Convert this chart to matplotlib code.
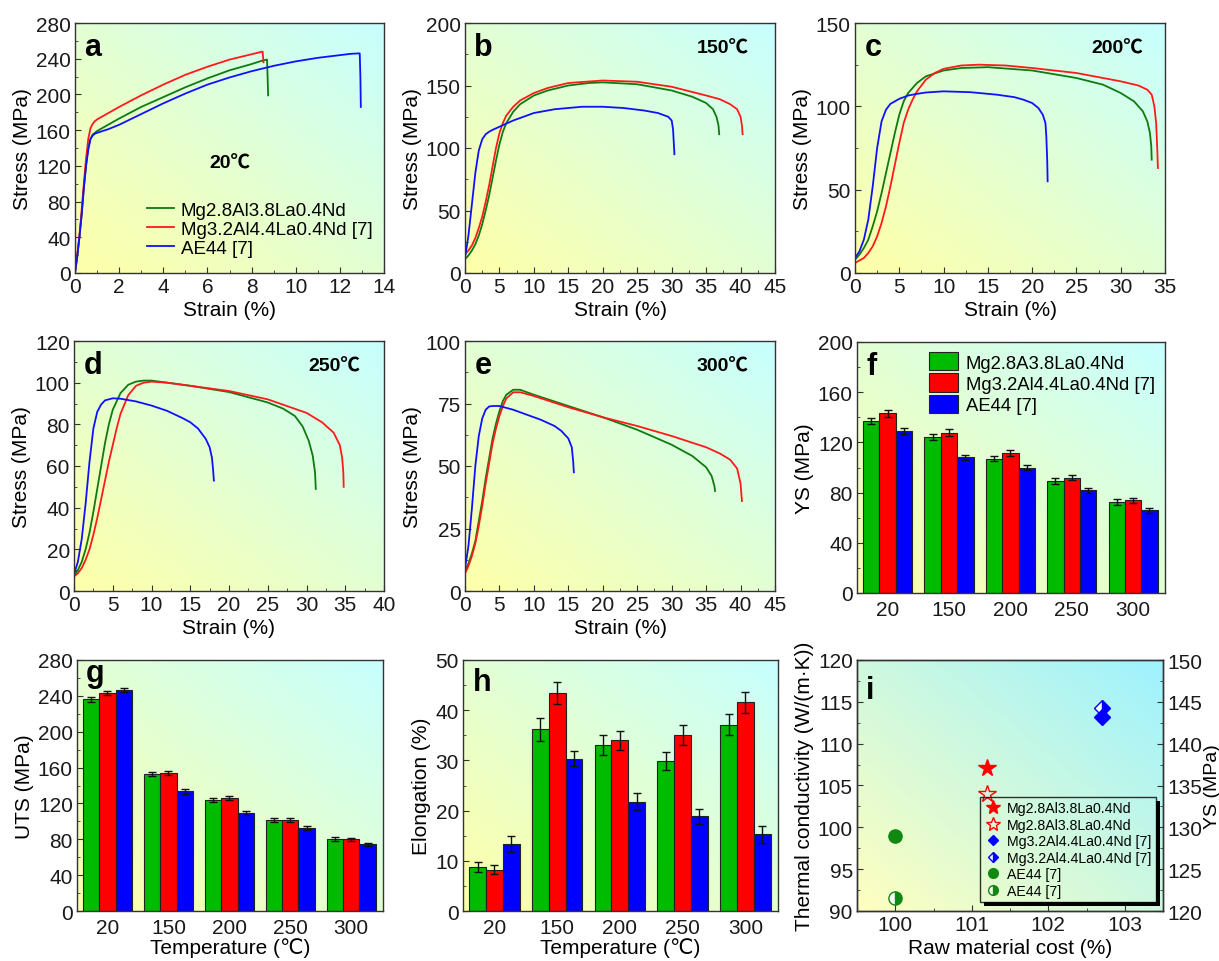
import numpy as np
import matplotlib
matplotlib.use('Agg')
import matplotlib.pyplot as plt
from matplotlib.ticker import MultipleLocator, AutoMinorLocator
from matplotlib.lines import Line2D
from matplotlib.patches import Rectangle

plt.rcParams['font.family'] = ['Liberation Sans', 'Noto Sans CJK SC', 'DejaVu Sans']
plt.rcParams['font.size'] = 15

# ---------------- data ----------------
alloys = ['Mg2.8Al3.8La0.4Nd', 'Mg3.2Al4.4La0.4Nd [7]', 'AE44 [7]']
alloys_f = ['Mg2.8A3.8La0.4Nd', 'Mg3.2Al4.4La0.4Nd [7]', 'AE44 [7]']
temps = ['20', '150', '200', '250', '300']

# panel a (20 C)
a_g_x = [0, 0.1, 0.2, 0.3, 0.4, 0.5, 0.6, 0.7, 0.8, 0.9, 1.0, 1.5, 2, 3, 4, 5, 6, 7, 8, 8.5, 8.7, 8.72, 8.75]
a_g_y = [0, 18, 40, 65, 95, 120, 140, 150, 155, 157, 159, 166, 173, 186, 197, 208, 218, 227, 234, 238, 239, 225, 199]
a_r_x = [0, 0.1, 0.2, 0.3, 0.4, 0.5, 0.6, 0.7, 0.8, 0.9, 1.0, 1.5, 2, 3, 4, 5, 6, 7, 8, 8.5, 8.52, 8.54]
a_r_y = [0, 20, 42, 70, 100, 128, 150, 162, 167, 170, 172, 179, 186, 199, 211, 222, 231, 239, 245, 248, 242, 236]
a_b_x = [0, 0.1, 0.2, 0.3, 0.4, 0.5, 0.6, 0.7, 0.8, 0.9, 1.0, 1.5, 2, 3, 4, 5, 6, 7, 8, 9, 10, 11, 12, 12.5, 12.9, 12.93, 12.95]
a_b_y = [0, 18, 40, 65, 95, 120, 138, 150, 154, 156, 157, 161, 166, 178, 190, 201, 211, 219, 226, 232, 237, 241, 244, 245.5, 246, 220, 186]

# panel b (150 C)
b_g_x = [0, 0.5, 1, 1.5, 2, 2.5, 3, 3.5, 4, 4.5, 5, 5.5, 6, 7, 8, 10, 12, 15, 18, 20, 25, 30, 33, 35, 36, 36.5, 36.8, 36.9]
b_g_y = [11, 14, 18, 23, 30, 39, 50, 62, 76, 90, 103, 113, 120, 129, 135, 142, 146, 150, 152, 152.5, 151, 146, 141, 136, 131, 125, 118, 111]
b_r_x = [0, 0.5, 1, 1.5, 2, 2.5, 3, 3.5, 4, 4.5, 5, 5.5, 6, 7, 8, 10, 12, 15, 20, 25, 30, 35, 37, 38.5, 39.5, 40, 40.2, 40.3]
b_r_y = [15, 18, 22, 28, 36, 45, 57, 70, 85, 100, 112, 120, 126, 133, 138, 144, 148, 152, 154, 153, 149, 142, 139, 135, 131, 125, 118, 111]
b_b_x = [0, 0.5, 1, 1.5, 2, 2.5, 3, 3.5, 4, 5, 6, 7, 8, 10, 13, 17, 20, 23, 26, 28, 29.5, 30, 30.2, 30.3, 30.4]
b_b_y = [12, 30, 55, 80, 98, 107, 111, 113, 114.5, 117, 119.5, 122, 124, 128, 131, 133, 133, 132, 130, 128, 125, 122, 115, 105, 95]

# panel c (200 C)
c_g_x = [0, 0.5, 1, 1.5, 2, 2.5, 3, 3.5, 4, 4.5, 5, 5.5, 6, 7, 8, 10, 12, 15, 20, 25, 28, 30, 31.5, 32.5, 33, 33.3, 33.45, 33.5]
c_g_y = [8, 11, 15, 20, 28, 37, 48, 60, 72, 84, 95, 103, 108, 114, 118, 121.5, 123, 123.5, 121.5, 117, 113, 108, 103, 97, 91, 84, 76, 68]
c_r_x = [0, 0.5, 1, 1.5, 2, 2.5, 3, 3.5, 4, 4.5, 5, 5.5, 6, 6.5, 7, 8, 9, 10, 12, 14, 17, 20, 25, 30, 32, 33, 33.5, 33.8, 34, 34.1, 34.2]
c_r_y = [6, 7.5, 9, 12, 16, 22, 30, 40, 52, 65, 78, 90, 98, 104, 109, 116, 120, 122.5, 124.5, 125, 124.5, 123, 120, 115, 112.5, 110, 107, 100, 90, 78, 63]
c_b_x = [0, 0.5, 1, 1.5, 2, 2.5, 3, 3.5, 4, 5, 6, 7, 8, 10, 13, 16, 18, 19, 20, 20.7, 21.2, 21.5, 21.6, 21.7, 21.75]
c_b_y = [9, 13, 20, 32, 52, 75, 91, 98, 101.5, 104.5, 106.5, 107.5, 108.3, 109, 108.5, 107, 105.5, 104, 102, 99, 95, 90, 82, 68, 55]

# panel d (250 C)
d_g_x = [0, 0.5, 1, 1.5, 2, 2.5, 3, 3.5, 4, 4.5, 5, 6, 7, 8, 9, 10, 12, 15, 20, 25, 27, 28.5, 29.5, 30.3, 30.8, 31.1, 31.2]
d_g_y = [7, 10, 14, 20, 28, 38, 49, 60, 71, 80, 87, 95, 99, 100.5, 101, 101, 100, 98.5, 95.5, 90.5, 87.5, 84, 79, 72, 65, 57, 49]
d_r_x = [0, 0.5, 1, 1.5, 2, 2.5, 3, 3.5, 4, 4.5, 5, 5.5, 6, 7, 8, 9, 10, 12, 15, 20, 25, 30, 32, 33.5, 34.3, 34.6, 34.75, 34.8]
d_r_y = [7, 8.5, 11, 15, 20, 27, 35, 44, 53, 62, 70, 78, 85, 94, 98.5, 100, 100.5, 100, 98.5, 96, 92, 85.5, 81, 76, 70, 64, 57, 50]
d_b_x = [0, 0.5, 1, 1.5, 2, 2.5, 3, 3.5, 4, 5, 6, 8, 10, 12, 14, 15, 16, 17, 17.5, 17.8, 17.95, 18.05]
d_b_y = [8, 14, 25, 42, 62, 78, 86, 89.5, 91.5, 92.5, 92.3, 91, 89, 86.5, 83, 81, 78, 73, 69, 64, 58, 53]

# panel e (300 C)
e_g_x = [0, 0.5, 1, 1.5, 2, 2.5, 3, 3.5, 4, 4.5, 5, 5.5, 6, 7, 8, 10, 15, 20, 25, 30, 33, 35, 35.8, 36.2, 36.3]
e_g_y = [8, 11, 15, 20, 28, 36, 45, 53, 61, 67, 72, 76, 78.5, 80.5, 80.5, 78.5, 74, 69.5, 64.5, 58.5, 54, 49.5, 46, 42, 40]
e_r_x = [0, 0.5, 1, 1.5, 2, 2.5, 3, 3.5, 4, 4.5, 5, 5.5, 6, 7, 8, 10, 15, 20, 25, 30, 35, 37, 38.5, 39.5, 40, 40.2]
e_r_y = [7, 10, 14, 19, 26, 34, 43, 51, 59, 65, 70, 74, 77, 79.5, 79.5, 78, 73.5, 69.5, 66, 62, 57.5, 55, 52.5, 49, 43, 36]
e_b_x = [0, 0.5, 1, 1.5, 2, 2.5, 3, 3.5, 4, 5, 7, 9, 11, 13, 14, 15, 15.5, 15.7, 15.8]
e_b_y = [9, 18, 33, 50, 62, 69, 72.5, 73.8, 74, 74, 72.5, 70.5, 68.5, 66, 64, 61, 57.5, 52, 47.5]

# panel f: yield strength (MPa)
ys_g = [137, 124.3, 107, 89.2, 72.8]
ys_r = [143.2, 127.8, 111.8, 91.9, 73.8]
ys_b = [128.8, 108.1, 99.9, 81.8, 65.9]
ys_err_g = [2.6, 2.6, 2.2, 2.2, 2.4]
ys_err_r = [2.8, 2.6, 2.4, 2.2, 1.8]
ys_err_b = [2.4, 2.2, 2.0, 2.2, 2.0]

# panel g: UTS (MPa)
uts_g = [236, 153.2, 123.8, 101.5, 80.5]
uts_r = [243.2, 154.3, 125.7, 101.2, 80.0]
uts_b = [246.6, 133.5, 109, 92.6, 74.4]
uts_err_g = [2.6, 2.4, 2.6, 2.6, 2.4]
uts_err_r = [2.6, 2.4, 2.2, 2.0, 1.8]
uts_err_b = [2.4, 2.8, 2.0, 2.2, 1.8]

# panel h: elongation (%)
el_g = [8.8, 36.2, 33.0, 29.9, 37.1]
el_r = [8.2, 43.5, 34.0, 35.1, 41.6]
el_b = [13.3, 30.3, 21.8, 18.9, 15.3]
el_err_g = [1.0, 2.3, 2.0, 1.8, 2.1]
el_err_r = [0.9, 2.2, 1.9, 2.0, 2.1]
el_err_b = [1.6, 1.5, 1.7, 1.5, 1.7]

# panel i
cost = [101.2, 102.7, 100.0]          # Mg2.8..., Mg3.2..., AE44
ys_i = [137.1, 143.2, 129.0]          # right axis
tc_i = [104.0, 114.3, 91.5]           # left axis

# ---------------- style ----------------
W, H = 1219, 962
fig = plt.figure(figsize=(W / 100, H / 100), dpi=100)

CG, CR, CB = '#0f7a0f', '#ff1a1a', '#1010ff'
BG, BR, BB = '#00bb00', '#ff0000', '#0000ff'
YEL = np.array([1.0, 1.0, 0.66])
CYA = np.array([0.78, 1.0, 1.0])
TICK_FS = 15
LAB_FS = 15


def rect(l, t, r, b):
    return [l / W, 1 - b / H, (r - l) / W, (b - t) / H]


def gradient(ax, c0=YEL, c1=CYA):
    n = 200
    x = np.linspace(0, 1, n)
    X, Y = np.meshgrid(x, x)
    t = (X + Y) / 2
    img = c0[None, None, :] * (1 - t[..., None]) + c1[None, None, :] * t[..., None]
    ax.imshow(img, extent=[0, 1, 0, 1], transform=ax.transAxes, origin='lower',
              aspect='auto', zorder=-10, interpolation='bilinear')


def style(ax, xminor=True):
    for s in ax.spines.values():
        s.set_color('#333333')
        s.set_linewidth(1.0)
    ax.tick_params(which='both', direction='in', top=False, right=False,
                   labelsize=TICK_FS, colors='#333333', labelcolor='#1a1a1a')
    ax.tick_params(which='major', length=4, pad=3)
    ax.tick_params(which='minor', length=2.5)
    if xminor:
        ax.xaxis.set_minor_locator(AutoMinorLocator(2))
    ax.yaxis.set_minor_locator(AutoMinorLocator(2))


def letter(ax, s, y=0.872):
    ax.text(0.03, y, s, transform=ax.transAxes, fontsize=22, fontweight='bold',
            ha='left', va='baseline')


curve_panels = [
    ('a', rect(75, 24, 384, 274), (0, 14), 2, (0, 280), 40, '20℃', (0.5, 0.44),
     [(a_g_x, a_g_y), (a_r_x, a_r_y), (a_b_x, a_b_y)]),
    ('b', rect(465, 24, 775, 274), (0, 45), 5, (0, 200), 50, '150℃', (0.83, 0.9),
     [(b_g_x, b_g_y), (b_r_x, b_r_y), (b_b_x, b_b_y)]),
    ('c', rect(855, 24, 1165, 274), (0, 35), 5, (0, 150), 50, '200℃', (0.845, 0.9),
     [(c_g_x, c_g_y), (c_r_x, c_r_y), (c_b_x, c_b_y)]),
    ('d', rect(74, 342, 384, 592), (0, 40), 5, (0, 120), 20, '250℃', (0.84, 0.9),
     [(d_g_x, d_g_y), (d_r_x, d_r_y), (d_b_x, d_b_y)]),
    ('e', rect(465, 342, 775, 592), (0, 45), 5, (0, 100), 25, '300℃', (0.83, 0.9),
     [(e_g_x, e_g_y), (e_r_x, e_r_y), (e_b_x, e_b_y)]),
]

for lab, r, xl, xs, yl, ys, tlabel, tpos, curves in curve_panels:
    ax = fig.add_axes(r)
    gradient(ax)
    for (x, y), c, name in zip(curves, [CG, CR, CB], alloys):
        ax.plot(x, y, color=c, lw=1.3, label=name)
    ax.set_xlim(*xl)
    ax.set_ylim(*yl)
    ax.xaxis.set_major_locator(MultipleLocator(xs))
    ax.yaxis.set_major_locator(MultipleLocator(ys))
    style(ax)
    ax.set_xlabel('Strain (%)', fontsize=LAB_FS, labelpad=3)
    ax.set_ylabel('Stress (MPa)', fontsize=LAB_FS, labelpad=3)
    letter(ax, lab)
    ax.text(tpos[0], tpos[1], tlabel, transform=ax.transAxes, fontsize=14,
            fontweight='bold', ha='center', va='center')
    if lab == 'a':
        ax.legend(loc='lower right', bbox_to_anchor=(1.0, 0.02), frameon=False,
                  fontsize=13.5, handlelength=1.4, handletextpad=0.4,
                  labelspacing=0.1, borderaxespad=0.2)

# ---------------- bar panels ----------------
xpos = np.arange(len(temps))
bw = 0.267


def bars(ax, g, r, b, eg, er, eb):
    for off, vals, errs, c, name in zip([-bw, 0, bw], [g, r, b], [eg, er, eb],
                                        [BG, BR, BB], alloys_f):
        ax.bar(xpos + off, vals, bw, color=c, edgecolor='#222222', linewidth=0.8,
               label=name, zorder=2)
        ax.errorbar(xpos + off, vals, yerr=errs, fmt='none', ecolor='#111111',
                    elinewidth=1.0, capsize=3, capthick=1.0, zorder=3)
    ax.set_xlim(-0.5, 4.52)
    ax.set_xticks(xpos)
    ax.set_xticklabels(temps)
    style(ax, xminor=False)
    ax.tick_params(axis='x', which='both', length=0, pad=5)


axf = fig.add_axes(rect(857, 343, 1165, 594))
gradient(axf)
bars(axf, ys_g, ys_r, ys_b, ys_err_g, ys_err_r, ys_err_b)
axf.set_ylim(0, 200)
axf.yaxis.set_major_locator(MultipleLocator(40))
axf.yaxis.set_minor_locator(AutoMinorLocator(2))
axf.set_ylabel('YS (MPa)', fontsize=LAB_FS, labelpad=3)
letter(axf, 'f')
axf.legend(loc='upper right', bbox_to_anchor=(1.0, 1.0), frameon=False, fontsize=13.3,
           handlelength=1.6, handleheight=1.15, handletextpad=0.4, labelspacing=0.1,
           borderaxespad=0.15)

axg = fig.add_axes(rect(77, 661, 383, 912))
gradient(axg)
bars(axg, uts_g, uts_r, uts_b, uts_err_g, uts_err_r, uts_err_b)
axg.set_ylim(0, 280)
axg.yaxis.set_major_locator(MultipleLocator(40))
axg.yaxis.set_minor_locator(AutoMinorLocator(2))
axg.set_ylabel('UTS (MPa)', fontsize=LAB_FS, labelpad=3)
axg.set_xlabel('Temperature (℃)', fontsize=LAB_FS, labelpad=0,
               family=['Liberation Sans', 'DejaVu Sans'])
letter(axg, 'g', 0.915)

axh = fig.add_axes(rect(463, 661, 778, 912))
gradient(axh)
bars(axh, el_g, el_r, el_b, el_err_g, el_err_r, el_err_b)
axh.set_ylim(0, 50)
axh.yaxis.set_major_locator(MultipleLocator(10))
axh.yaxis.set_minor_locator(AutoMinorLocator(2))
axh.set_ylabel('Elongation (%)', fontsize=LAB_FS, labelpad=3)
axh.set_xlabel('Temperature (℃)', fontsize=LAB_FS, labelpad=0,
               family=['Liberation Sans', 'DejaVu Sans'])
letter(axh, 'h', 0.88)

# ---------------- panel i ----------------
axi = fig.add_axes(rect(857, 661, 1163, 912))
gradient(axi, np.array([1.0, 1.0, 0.75]), np.array([0.62, 0.95, 1.0]))
axi2 = axi.twinx()
mk = ['*', 'D', 'o']
ms = [13, 8, 9.5]
cols = ['#ff0000', '#0000ff', '#118811']
handles = []
for i in range(3):
    # YS (filled, right axis)
    axi2.plot([cost[i]], [ys_i[i]], linestyle='none', marker=mk[i], ms=ms[i],
              color=cols[i], markeredgecolor=cols[i])
    # thermal conductivity (open / half-filled, left axis)
    if i == 0:
        axi.plot([cost[i]], [tc_i[i]], linestyle='none', marker=mk[i], ms=ms[i],
                 color=cols[i], fillstyle='none', markeredgewidth=1.0)
        h2 = Line2D([], [], linestyle='none', marker=mk[i], ms=ms[i] - 3, color=cols[i],
                    fillstyle='none')
    else:
        axi.plot([cost[i]], [tc_i[i]], linestyle='none', marker=mk[i], ms=ms[i],
                 color=cols[i], fillstyle='right', markerfacecoloralt='white',
                 markeredgewidth=1.0)
        h2 = Line2D([], [], linestyle='none', marker=mk[i], ms=ms[i] - 2.5, color=cols[i],
                    fillstyle='right', markerfacecoloralt='white')
    h1 = Line2D([], [], linestyle='none', marker=mk[i], ms=ms[i] - 2.5, color=cols[i])
    handles += [h1, h2]
labels_i = ['Mg2.8Al3.8La0.4Nd', 'Mg2.8Al3.8La0.4Nd',
            'Mg3.2Al4.4La0.4Nd [7]', 'Mg3.2Al4.4La0.4Nd [7]',
            'AE44 [7]', 'AE44 [7]']
axi.set_xlim(99.5, 103.5)
axi.set_ylim(90, 120)
axi2.set_ylim(120, 150)
axi.xaxis.set_major_locator(MultipleLocator(1))
axi.yaxis.set_major_locator(MultipleLocator(5))
axi2.yaxis.set_major_locator(MultipleLocator(5))
style(axi)
for s in axi2.spines.values():
    s.set_color('#333333')
    s.set_linewidth(1.0)
axi2.yaxis.set_minor_locator(AutoMinorLocator(2))
axi2.tick_params(which='both', direction='in', labelsize=TICK_FS, colors='#333333',
                 labelcolor='#1a1a1a', pad=3)
axi2.tick_params(which='major', length=4)
axi2.tick_params(which='minor', length=2.5)
axi.set_xlabel('Raw material cost (%)', fontsize=LAB_FS, labelpad=3)
axi.set_ylabel('Thermal conductivity (W/(m·K))', fontsize=LAB_FS, labelpad=3)
axi2.set_ylabel('YS (MPa)', fontsize=14, rotation=90, labelpad=1)
letter(axi2, 'i', 0.85)
leg = axi2.legend(handles, labels_i, loc='lower right', bbox_to_anchor=(0.977, 0.036),
                  fontsize=10.2, frameon=True, fancybox=False, edgecolor='black',
                  facecolor='none', labelspacing=0.18, borderpad=0.3,
                  handletextpad=0.35, handlelength=1.3, borderaxespad=0.0)
leg.get_frame().set_linewidth(1.0)

# manual shadow for legend (legend itself is transparent)
fig.canvas.draw()
bb = leg.get_window_extent()
d = 4
fig.add_artist(Rectangle((bb.x1, bb.y0 - d), d, bb.height, transform=None,
                         facecolor='black', edgecolor='none'))
fig.add_artist(Rectangle((bb.x0 + d, bb.y0 - d), bb.width, d, transform=None,
                         facecolor='black', edgecolor='none'))

fig.savefig('out.png', dpi=100)
